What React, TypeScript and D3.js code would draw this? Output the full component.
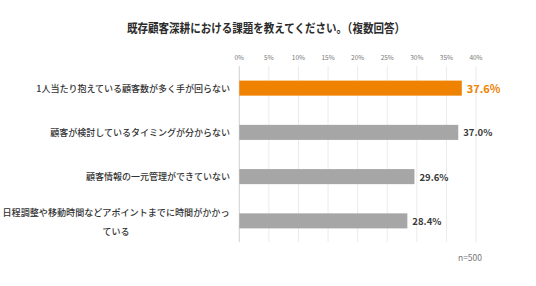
import * as d3 from 'd3';

const categories = [
  '1人当たり抱えている顧客数が多く手が回らない',
  '顧客が検討しているタイミングが分からない',
  '顧客情報の一元管理ができていない',
  '日程調整や移動時間などアポイントまでに時間がかかっている',
];
const values = [37.6, 37.0, 29.6, 28.4];
const ticks = [0, 5, 10, 15, 20, 25, 30, 35, 40];

const W = 536;
const H = 286;
const FONT = '"Noto Sans CJK JP", "Noto Sans", sans-serif';

const App = () => {
  const x = d3.scaleLinear().domain([0, 40]).range([239.3, 476]);
  const y = d3.scaleBand<number>()
    .domain(d3.range(categories.length))
    .range([66, 243])
    .paddingInner(0.66)
    .paddingOuter(0.33);

  const bh = y.bandwidth();

  return (
    <svg width={W} height={H} style={{ position: 'absolute', left: 0, top: 0 }} fontFamily={FONT}>
      <rect width={W} height={H} fill="#fff" />
      <text x={266} y={27} textAnchor="middle" dominantBaseline="central" fontSize={12.5}
        fontWeight="bold" fill="#2b2b2b" textLength={278} lengthAdjust="spacingAndGlyphs">
        既存顧客深耕における課題を教えてください。（複数回答）
      </text>

      {ticks.map(t => (
        <g key={t}>
          <line x1={x(t)} x2={x(t)} y1={66} y2={242}
            stroke={t === 0 ? '#d0d0d0' : '#ebebeb'} strokeWidth={1} />
          <text x={x(t)} y={57} textAnchor="middle" dominantBaseline="central"
            fontSize={6.5} fill="#777">{t}%</text>
        </g>
      ))}

      {values.map((v, i) => {
        const cy = (y(i) as number) + bh / 2;
        const first = i === 0;
        return (
          <g key={i}>
            <rect x={x(0)} y={cy - bh / 2} width={x(v) - x(0)} height={bh}
              fill={first ? '#ef8200' : '#a6a6a6'} />
            <text x={x(v) + 5} y={cy} dominantBaseline="central"
              fontSize={first ? 11 : 9.5} fontWeight="bold"
              fill={first ? '#ef8200' : '#3a3a3a'}>{v.toFixed(1)}%</text>
          </g>
        );
      })}

      {categories.map((c, i) => {
        const cy = (y(i) as number) + bh / 2;
        if (c.length > 24) {
          const l1 = c.slice(0, 25);
          const l2 = c.slice(25);
          return (
            <g key={i} fontSize={9} fill="#333" fontWeight={500}>
              <text x={116} y={cy - 8} textAnchor="middle" dominantBaseline="central"
                textLength={227} lengthAdjust="spacingAndGlyphs">{l1}</text>
              <text x={116} y={cy + 10.5} textAnchor="middle" dominantBaseline="central">{l2}</text>
            </g>
          );
        }
        return (
          <text key={i} x={230} y={cy} textAnchor="end" dominantBaseline="central"
            fontSize={9} fontWeight={500} fill="#333">{c}</text>
        );
      })}

      <text x={470} y={257} textAnchor="middle" dominantBaseline="central"
        fontSize={8.5} fill="#777">n=500</text>
    </svg>
  );
};

export default App;
